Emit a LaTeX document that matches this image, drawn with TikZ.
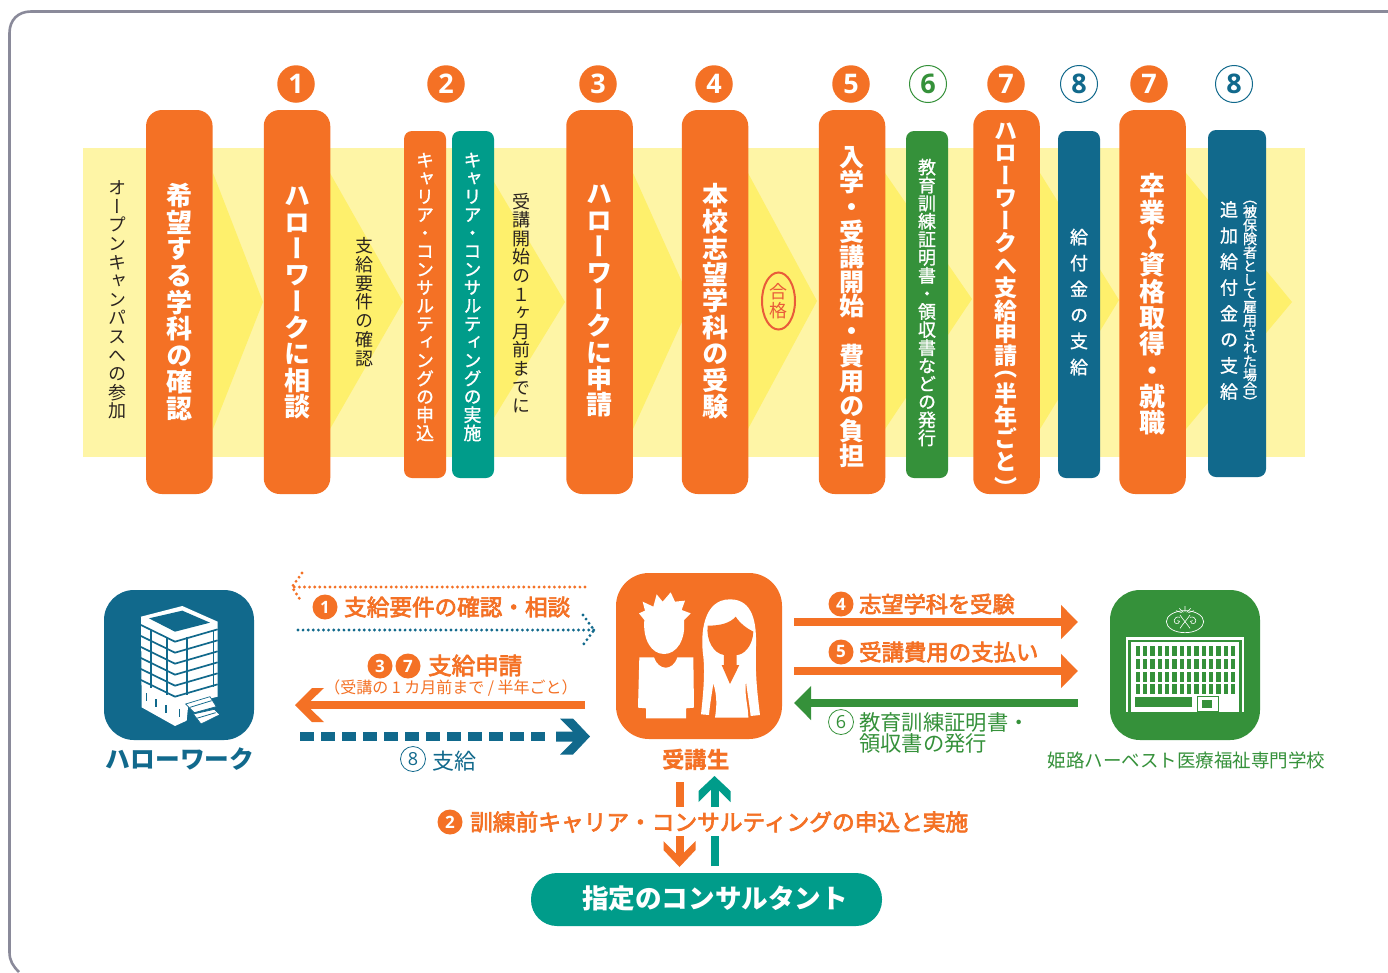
\documentclass[tikz,border=0pt]{standalone}
\usepackage{fontspec}
\setmainfont{Noto Sans CJK JP}
\newfontfamily\jpv[RawFeature=+vert]{Noto Sans CJK JP}
\newfontfamily\jpvm[RawFeature=+vert,FakeBold=1.2]{Noto Sans CJK JP}
\newfontfamily\jpm[FakeBold=3]{Noto Sans CJK JP}
\newfontfamily\numf{Open Sans}
\usetikzlibrary{arrows.meta,shapes.geometric}
\definecolor{cOrange}{HTML}{F47125}
\definecolor{cTeal}{HTML}{009C8A}
\definecolor{cGreen}{HTML}{35913A}
\definecolor{cBlue}{HTML}{11698C}
\definecolor{cBand}{HTML}{FEF5A6}
\definecolor{cChev}{HTML}{FEF06C}
\definecolor{cInk}{HTML}{2A2320}
\definecolor{cFrame}{HTML}{8A8A9A}
\definecolor{cRed}{HTML}{E95B3A}
\ExplSyntaxOn
\NewDocumentCommand\vchars{m}{\tl_map_inline:nn{#1}{\hbox to 1.1em{\hss ##1\hss}}}
\NewDocumentCommand\vst{mm}{\vbox{\baselineskip=#1\lineskiplimit=-1000pt\vchars{#2}}}
\ExplSyntaxOff
\tikzset{
 x=1pt,y=-1pt,
 tall/.style={draw=none,fill=cOrange,rounded corners=16pt,minimum width=66.5pt,minimum height=384pt,inner sep=0pt},
 slim/.style={draw=none,fill=#1,rounded corners=8pt,minimum width=42pt,minimum height=347pt,inner sep=0pt},
 vbig/.style={inner sep=0pt,text=white,font={\jpv\bfseries\fontsize{#1}{#1}\selectfont}},
 vsmall/.style={inner sep=0pt,text=cInk,font={\jpv\fontsize{18}{18}\selectfont}},
 vwhite/.style={inner sep=0pt,text=white,font={\jpvm\fontsize{#1}{#1}\selectfont}},
 numfill/.style={circle,fill=#1,draw=none,minimum size=37.5pt,inner sep=0pt,text=white,font={\numf\bfseries\fontsize{27}{27}\selectfont}},
 numline/.style={circle,fill=white,draw=#1,line width=1pt,minimum size=37pt,inner sep=0pt,text=#1,font={\numf\bfseries\fontsize{27}{27}\selectfont}},
 smallfill/.style={circle,fill=cOrange,minimum size=25pt,inner sep=0pt,text=white,font={\numf\bfseries\fontsize{17}{17}\selectfont}},
 smallline/.style={circle,fill=white,draw=#1,line width=.8pt,minimum size=25pt,inner sep=0pt,text=#1,font={\numf\fontsize{18}{18}\selectfont}},
 htext/.style={inner sep=0pt,anchor=west,text=#1},
 sz/.style={font={\fontsize{#1}{#1}\selectfont}},
 szb/.style={font={\jpm\fontsize{#1}{#1}\selectfont}},
 icon/.style={fill=#1,draw=none,rounded corners=30pt,inner sep=0pt},
 chev/.style={fill=cChev,draw=none},
 dotline/.style={draw=#1,line width=3.2pt,line cap=round,dash pattern=on 0pt off 5.1pt},
 block/.style={draw=#1,line width=8.7pt},
 tipped/.style={draw=#1,line width=8.7pt,-{Triangle[width=33pt,length=17pt]}},
}
\begin{document}
\begin{tikzpicture}
\useasboundingbox (0,0) rectangle (1388,972);
\fill[white] (0,0) rectangle (1388,972);
% frame
\draw[cFrame,line width=2.6pt] (19,972) .. controls (13,966) and (9.5,961) .. (9.5,952) -- (9.5,33) .. controls (9.5,20) and (18,11.5) .. (31,11.5) -- (1388,11.5);
% band
\fill[cBand] (83,148) rectangle (1305,457);
\fill[chev] (213,173) -- (263,302) -- (213,429) -- cycle;
\fill[chev] (330,173) -- (403,302) -- (330,429) -- cycle;
\fill[chev] (484,165) -- (565,302) -- (484,434) -- cycle;
\fill[chev] (633,173) -- (691,302) -- (633,429) -- cycle;
\fill[chev] (748,173) -- (817,301) -- (748,429) -- cycle;
\fill[chev] (885,173) -- (972,299) -- (885,429) -- cycle;
\fill[chev] (1040,173) -- (1119,300) -- (1040,429) -- cycle;
\fill[chev] (1186,173) -- (1292,302) -- (1186,429) -- cycle;
% tall bars
\node[tall] (b0) at (179.3,302) {};
\node[tall] (b1) at (297,302) {};
\node[tall] (b3) at (599.5,302) {};
\node[tall] (b4) at (715,302) {};
\node[tall] (b5) at (852,302) {};
\node[tall] (b7a) at (1006.5,302) {};
\node[tall] (b7b) at (1152.5,302) {};
% slim bars
\node[slim=cOrange] (s2a) at (425,304.5) {};
\node[slim=cTeal] (s2b) at (473,304.5) {};
\node[slim=cGreen] (s6) at (927,304.5) {};
\node[slim=cBlue] (s8a) at (1079,304.5) {};
\node[slim=cBlue,minimum width=58pt] (s8b) at (1237,303.5) {};
% number circles
\node[numfill=cOrange] (n1) at (296,84) {1};
\node[numfill=cOrange] (n2) at (446,84) {2};
\node[numfill=cOrange] (n3) at (598,84) {3};
\node[numfill=cOrange] (n4) at (714,84) {4};
\node[numfill=cOrange] (n5) at (851,84) {5};
\node[numline=cGreen] (n6) at (928,84) {6};
\node[numfill=cOrange] (n7a) at (1006,84) {7};
\node[numline=cBlue] (n8a) at (1079,84) {8};
\node[numfill=cOrange] (n7b) at (1149,84) {7};
\node[numline=cBlue] (n8b) at (1234,84) {8};
% vertical texts
\node[vsmall] (t0) at (117,300) {\vst{18.6pt}{オープンキャンパスへの参加}};
\node[vbig=26] (t1) at (179,302) {\vst{26.6pt}{希望する学科の確認}};
\node[vbig=26] (t2) at (297,303) {\vst{26.3pt}{ハローワークに相談}};
\node[vsmall] (t3) at (364,302) {\vst{18.7pt}{支給要件の確認}};
\node[vwhite=18] (t4) at (425,297) {\vst{18.2pt}{キャリア・コンサルティングの申込}};
\node[vwhite=18] (t5) at (472.5,297) {\vst{18.2pt}{キャリア・コンサルティングの実施}};
\node[vsmall] (t6) at (521,303) {\vst{18.6pt}{受講開始の１ヶ月前までに}};
\node[vbig=26] (t7) at (599,301) {\vst{26.4pt}{ハローワークに申請}};
\node[vbig=26] (t8) at (715,301) {\vst{26.4pt}{本校志望学科の受験}};
\node[ellipse,draw=cRed,line width=2pt,minimum width=33pt,minimum height=57pt,inner sep=0pt] (pass) at (778.5,301) {};
\node[inner sep=0pt,text=cRed,font={\jpv\fontsize{18}{18}\selectfont}] (passt) at (778.5,301) {\vst{18.5pt}{合格}};
\node[vbig=25] (t9) at (852,307) {\vst{24.9pt}{入学・受講開始・費用の負担}};
\node[vwhite=18] (t10) at (927,302.5) {\vst{18.05pt}{教育訓練証明書・領収書などの発行}};
\node[vbig=23] (t11) at (1006,309.5) {\vbox{\baselineskip=22.5pt\lineskiplimit=-1000pt\vchars{ハローワークへ支給申請}\vskip-10pt\vchars{（}\vskip3.5pt\vchars{半年ごと}\vskip3.5pt\vchars{）}}};
\node[vwhite=18] (t12) at (1079,302) {\vst{26pt}{給付金の支給}};
\node[vbig=26] (t13) at (1152,304.5) {\vst{26.3pt}{卒業～資格取得・就職}};
\node[vwhite=18] (t14) at (1229,300.5) {\vst{26pt}{追加給付金の支給}};
\node[vwhite=14] (t15) at (1250,304) {\vst{13.6pt}{（被保険者として雇用された場合）}};
% ===== lower: hello work
\node[icon=cBlue,minimum width=150pt,minimum height=150pt] (hw) at (179,665) {};
\begin{scope}[shift={(95,580)},x=0.3333pt,y=-0.3333pt]
 \fill[white,line join=round] (138,110) -- (262,78) -- (368,125) -- (368,350) -- (280,372) -- (275,422) -- (240,438) -- (140,382) -- cycle;
 \fill[cBlue] (162,115) -- (262,92) -- (345,128) -- (240,155) -- cycle;
 \foreach \d in {0,33,66,99,132,165}{
  \draw[cBlue,line width=1.7pt] (138,135+\d) -- (240,185+\d) -- (368,148+\d);
 }
 \draw[cBlue,line width=1.6pt] (168,150) -- (168,325);
 \draw[cBlue,line width=1.6pt] (216,175) -- (216,345);
 \draw[cBlue,line width=1.6pt] (276,170) -- (276,345);
 \draw[cBlue,line width=1.6pt] (355,150) -- (355,320);
 \foreach \a/\b in {155/340,183/358,213/375,253/388}{
  \draw[cBlue,line width=1.3pt] (\a,\b) -- (\a,\b+24);
 }
 \draw[cBlue,fill=white,line width=.7pt] (272,372) -- (345,350) -- (364,380) -- (298,398) -- cycle;
 \draw[cBlue,fill=white,line width=.7pt] (295,402) -- (358,388) -- (375,404) -- (318,432) -- cycle;
 \draw[cBlue,line width=.8pt] (285,382) -- (350,362);
 \draw[cBlue,line width=.8pt] (305,415) -- (362,398);
\end{scope}
\node[inner sep=0pt,text=cBlue,font={\bfseries\fontsize{24.7}{24.7}\selectfont}] (hwl) at (180,759) {ハローワーク};
% left arrows
\coordinate (d1s) at (585,587); \coordinate (d1e) at (292,587);
\coordinate (d1a) at (302,573); \coordinate (d1b) at (301,601);
\draw[dotline=cOrange] (d1s) -- (d1e);
\draw[dotline=cOrange] (d1a) -- (d1e) -- (d1b);
\node[smallfill] (c1) at (325,607) {1};
\node[htext=cOrange,szb=22.6] (l1) at (344,607) {支給要件の確認・相談};
\coordinate (d2s) at (298,630); \coordinate (d2e) at (594,630);
\coordinate (d2a) at (583,615); \coordinate (d2b) at (583,645);
\draw[dotline=cBlue] (d2s) -- (d2e);
\draw[dotline=cBlue] (d2a) -- (d2e) -- (d2b);
\node[smallfill] (c3) at (380,666) {3};
\node[smallfill] (c7) at (408,666) {7};
\node[htext=cOrange,szb=23.5] (l2) at (428,665.5) {支給申請};
\node[inner sep=0pt,text=cOrange,font={\fontsize{16}{16}\selectfont}] (l3) at (451,688) {（受講の 1 カ月前まで / 半年ごと）};
\coordinate (a3s) at (585,705); \coordinate (a3e) at (306,705); \coordinate (a3t) at (295,705);
\draw[block=cOrange] (a3s) -- (a3e);
\fill[cOrange] (a3t) -- ++(17,-17) -- ++(12,0) -- ++(-13.5,13) -- ++(0,8) -- ++(13.5,13) -- ++(-12,0) -- cycle;
\coordinate (a4s) at (300,736.5); \coordinate (a4e) at (552,736.5); \coordinate (a4t) at (590,736.5);
\draw[draw=cBlue,line width=9pt,dash pattern=on 14pt off 7pt] (a4s) -- (a4e);
\fill[cBlue] (a4t) -- ++(-17,18) -- ++(-13,0) -- ++(13,-13) -- ++(-17,0) -- ++(0,-10) -- ++(17,0) -- ++(-13,-13) -- ++(13,0) -- cycle;
\node[smallline=cBlue] (c8) at (413,759) {8};
\node[htext=cBlue,sz=22] (l4) at (432,761) {支給};
% ===== student
\node[icon=cOrange,rounded corners=33pt,minimum width=166pt,minimum height=166pt] (st) at (699,656) {};
\begin{scope}[shift={(600,560)},x=0.3333pt,y=-0.3333pt]
 \fill[white] (128,125) -- (160,140) -- (170,103) -- (188,125) -- (212,97) -- (225,125) -- (255,122) -- (245,150) -- (272,160) -- (252,180) .. controls (258,240) and (230,282) .. (192,282) .. controls (155,282) and (128,240) .. (133,180) -- (117,160) -- (135,152) -- cycle;
 \fill[white] (118,292) -- (162,292) .. controls (175,332) and (218,335) .. (232,292) -- (280,292) -- (282,443) -- (258,445) -- (258,475) -- (138,475) -- (138,445) -- (114,443) -- cycle;
 \fill[white] (303,463) .. controls (310,400) and (315,340) .. (310,290) .. controls (300,220) and (310,118) .. (390,118) .. controls (460,118) and (470,190) .. (468,260) .. controls (465,340) and (472,400) .. (480,465) -- (452,468) .. controls (448,430) and (442,400) .. (438,365) .. controls (432,400) and (445,440) .. (445,473) -- (345,473) .. controls (350,440) and (352,410) .. (340,370) .. controls (336,400) and (330,430) .. (327,465) -- cycle;
 \fill[cOrange] (323,197) .. controls (360,197) and (390,190) .. (407,170) .. controls (420,190) and (440,205) .. (460,215) .. controls (458,260) and (430,285) .. (410,285) -- (410,315) -- (418,315) -- (390,372) -- (365,315) -- (372,315) -- (372,285) .. controls (340,280) and (318,240) .. (323,197) -- cycle;
\end{scope}
\node[inner sep=0pt,text=cOrange,font={\bfseries\fontsize{22.5}{22.5}\selectfont}] (stl) at (696,760) {受講生};
% ===== right arrows
\coordinate (a5s) at (794,622); \coordinate (a5e) at (1078,622);
\draw[tipped=cOrange] (a5s) -- (a5e);
\coordinate (a6s) at (794,671); \coordinate (a6e) at (1078,671);
\draw[tipped=cOrange] (a6s) -- (a6e);
\coordinate (a7s) at (1077.5,703); \coordinate (a7e) at (794,703);
\draw[tipped=cGreen] (a7s) -- (a7e);
\node[smallfill] (c4) at (841,604) {4};
\node[htext=cOrange,szb=22.2] (l5) at (859,604) {志望学科を受験};
\node[smallfill] (c5) at (841,652) {5};
\node[htext=cOrange,szb=22.4] (l6) at (859,652) {受講費用の支払い};
\node[smallline=cGreen] (c6) at (841,722) {6};
\node[htext=cGreen,sz=21.3] (l7) at (859,722) {教育訓練証明書・};
\node[htext=cGreen,sz=21.3] (l8) at (859,743) {領収書の発行};
% ===== school
\node[icon=cGreen,minimum width=150pt,minimum height=150pt] (sc) at (1185,665) {};
\begin{scope}[shift={(1100,580)},x=0.3333pt,y=-0.3333pt]
 \fill[white] (78,172) rectangle (432,180);
 \fill[white] (78,172) rectangle (85,395);
 \fill[white] (425,172) rectangle (432,395);
 \fill[white] (92,186) rectangle (418,395);
 \foreach \c in {0,...,13}{
  \foreach \r in {198,236,275,313}{
   \fill[cGreen] (107+22*\c,\r) rectangle (120+22*\c,\r+30);
  }
 }
 \fill[cGreen] (106,352) rectangle (276,381);
 \draw[cGreen,line width=.8pt] (293,349) rectangle (354,395);
 \fill[cGreen] (306,360) rectangle (336,385);
 \draw[white,line width=.7pt] (255,125) ellipse[x radius=56,y radius=33];
 \draw[white,line width=.6pt] (240,112) .. controls (220,105) and (215,135) .. (235,130) .. controls (242,128) and (238,118) .. (232,122);
 \draw[white,line width=.6pt] (270,112) .. controls (290,105) and (295,135) .. (275,130) .. controls (268,128) and (272,118) .. (278,122);
 \draw[white,line width=.6pt] (240,105) .. controls (250,120) and (260,130) .. (270,145);
 \draw[white,line width=.6pt] (270,105) .. controls (260,120) and (250,130) .. (240,145);
 \draw[white,line width=.6pt] (255,78) -- (255,95) (238,85) -- (250,97) (272,85) -- (260,97) (228,92) -- (245,98) (282,92) -- (265,98);
\end{scope}
\node[inner sep=0pt,text=cGreen,font={\fontsize{18.5}{18.5}\selectfont}] (scl) at (1186.5,760) {姫路ハーベスト医療福祉専門学校};
% ===== consultant
\node[fill=cTeal,rounded corners=26pt,minimum width=351pt,minimum height=53pt,inner sep=0pt] (co) at (706.5,899.5) {};
\node[inner sep=0pt,text=white,font={\bfseries\fontsize{26.6}{26.6}\selectfont}] (cot) at (715,898) {指定のコンサルタント};
\coordinate (o1s) at (679.5,782); \coordinate (o1e) at (679.5,807);
\draw[block=cOrange,line width=8pt] (o1s) -- (o1e);
\coordinate (o2s) at (679.5,836); \coordinate (o2e) at (679.5,855); \coordinate (o2t) at (679.5,867);
\draw[block=cOrange,line width=8pt] (o2s) -- (o2e);
\fill[cOrange] (o2t) -- ++(-16,-17) -- ++(0,-9) -- ++(12,12) -- ++(8,0) -- ++(12,-12) -- ++(0,9) -- cycle;
\coordinate (t1s) at (714.5,866); \coordinate (t1e) at (714.5,836);
\draw[block=cTeal,line width=8pt] (t1s) -- (t1e);
\coordinate (t2s) at (714.5,807); \coordinate (t2e) at (714.5,788); \coordinate (t2t) at (714.5,776);
\draw[block=cTeal,line width=8pt] (t2s) -- (t2e);
\fill[cTeal] (t2t) -- ++(16,15) -- ++(0,11) -- ++(-12,-12) -- ++(-8,0) -- ++(-12,12) -- ++(0,-11) -- cycle;
\node[smallfill] (c2) at (450,822) {2};
\node[htext=cOrange,szb=22.7] (l9) at (470,822) {訓練前キャリア・コンサルティングの申込と実施};
\end{tikzpicture}
\end{document}
